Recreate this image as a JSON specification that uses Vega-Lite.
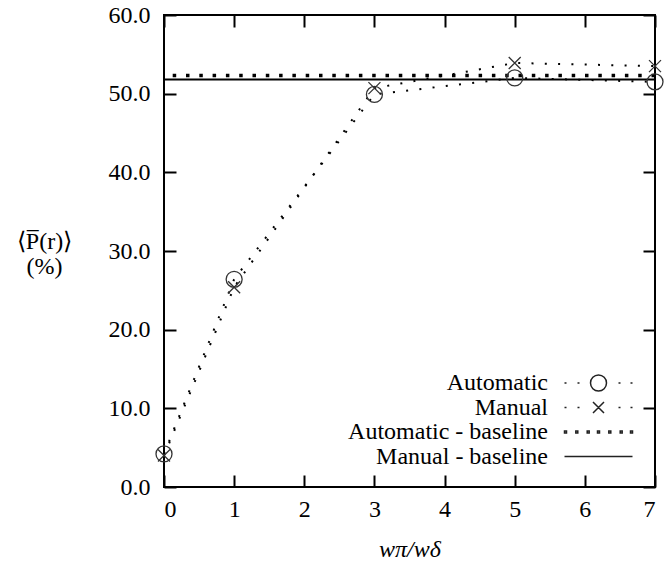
{
  "$schema": "https://vega.github.io/schema/vega-lite/v6.json",
  "width": 491,
  "height": 472,
  "autosize": {"type": "none"},
  "padding": {"left": 164, "top": 15, "right": 9, "bottom": 76},
  "background": "white",
  "config": {
    "view": {"stroke": "black", "strokeWidth": 2},
    "axis": {
      "labelFont": "Liberation Serif",
      "labelFontSize": 24,
      "labelColor": "black",
      "titleFont": "Liberation Serif",
      "titleFontSize": 24,
      "titleFontWeight": "normal",
      "titleColor": "black",
      "ticks": true,
      "tickColor": "black",
      "tickSize": -12,
      "tickWidth": 2,
      "domain": false,
      "grid": false
    }
  },
  "datasets": {
    "curves": [
      {"w": 0, "p": 4.2, "series": "Automatic"},
      {"w": 1, "p": 26.4, "series": "Automatic"},
      {"w": 3, "p": 49.9, "series": "Automatic"},
      {"w": 5, "p": 52.0, "series": "Automatic"},
      {"w": 7, "p": 51.5, "series": "Automatic"},
      {"w": 0, "p": 4.0, "series": "Manual"},
      {"w": 1, "p": 25.4, "series": "Manual"},
      {"w": 3, "p": 50.7, "series": "Manual"},
      {"w": 5, "p": 53.9, "series": "Manual"},
      {"w": 7, "p": 53.5, "series": "Manual"}
    ],
    "baselines": [
      {"series": "Automatic - baseline", "p": 52.3},
      {"series": "Manual - baseline", "p": 51.8}
    ],
    "entries": [
      {"entry": "Automatic"},
      {"entry": "Manual"},
      {"entry": "Automatic - baseline"},
      {"entry": "Manual - baseline"}
    ]
  },
  "resolve": {"axis": {"x": "independent", "y": "independent"}},
  "layer": [
    {
      "data": {"name": "curves"},
      "mark": {"type": "line", "color": "black", "strokeWidth": 2, "strokeDash": [2, 11.3]},
      "encoding": {
        "x": {
          "field": "w", "type": "quantitative",
          "scale": {"domain": [0, 7], "nice": false, "zero": false},
          "axis": {"orient": "bottom", "values": [0, 1, 2, 3, 4, 5, 6, 7], "format": "d", "labelPadding": 22,
                   "title": "wπ/wδ", "titleFontStyle": "italic", "titleY": 62, "titleBaseline": "middle"}
        },
        "y": {
          "field": "p", "type": "quantitative",
          "scale": {"domain": [0, 60], "nice": false, "zero": false},
          "axis": {"orient": "left", "values": [0, 10, 20, 30, 40, 50, 60], "format": ".1f", "labelPadding": 26,
                   "title": ["⟨P̅(r)⟩", "(%)"], "titleAngle": 0, "titleX": -120, "titleY": 226,
                   "titleAlign": "center", "titleBaseline": "middle", "titleLineHeight": 25}
        },
        "detail": {"field": "series", "type": "nominal"}
      }
    },
    {
      "data": {"name": "baselines"},
      "transform": [{"filter": "datum.series === 'Automatic - baseline'"}],
      "mark": {"type": "rule", "color": "black", "strokeWidth": 3.5, "strokeDash": [3.5, 9.8]},
      "encoding": {"y": {"field": "p", "type": "quantitative", "axis": null}}
    },
    {
      "data": {"name": "baselines"},
      "transform": [{"filter": "datum.series === 'Manual - baseline'"}],
      "mark": {"type": "rule", "color": "black", "strokeWidth": 2},
      "encoding": {"y": {"field": "p", "type": "quantitative", "axis": null}}
    },
    {
      "data": {"name": "curves"},
      "transform": [{"filter": "datum.series === 'Automatic'"}],
      "mark": {"type": "point", "shape": "circle", "size": 256, "filled": false, "stroke": "#333", "strokeWidth": 1.3, "opacity": 1},
      "encoding": {
        "x": {"field": "w", "type": "quantitative", "axis": null},
        "y": {"field": "p", "type": "quantitative",
              "axis": {"orient": "right", "values": [0, 10, 20, 30, 40, 50, 60], "labels": false, "title": null}}
      }
    },
    {
      "data": {"name": "curves"},
      "transform": [{"filter": "datum.series === 'Manual'"}],
      "mark": {"type": "point", "shape": "M-1,-1L1,1M1,-1L-1,1", "size": 144, "filled": false, "stroke": "#333", "strokeWidth": 1.3, "opacity": 1},
      "encoding": {
        "x": {"field": "w", "type": "quantitative",
              "axis": {"orient": "top", "values": [0, 1, 2, 3, 4, 5, 6, 7], "labels": false, "title": null}},
        "y": {"field": "p", "type": "quantitative", "axis": null}
      }
    },
    {
      "data": {"name": "entries"},
      "mark": {"type": "point", "filled": false, "opacity": 0},
      "encoding": {
        "shape": {
          "field": "entry", "type": "nominal",
          "scale": {
            "domain": ["Automatic", "Manual", "Automatic - baseline", "Manual - baseline"],
            "range": [
              "M-3.4,0h0.2M-2.1,0h0.2M2,0h0.2M3.2,0h0.2M0.8,0A0.8,0.8 0 1 1 -0.8,0A0.8,0.8 0 1 1 0.8,0Z",
              "M-3.4,0h0.2M-2.1,0h0.2M2,0h0.2M3.2,0h0.2M-0.55,-0.55L0.55,0.55M0.55,-0.55L-0.55,0.55",
              "M-3.4,-0.1h0.2v0.2h-0.2ZM-2.27,-0.1h0.2v0.2h-0.2ZM-1.13,-0.1h0.2v0.2h-0.2ZM-0.1,-0.1h0.2v0.2h-0.2ZM1.03,-0.1h0.2v0.2h-0.2ZM2.17,-0.1h0.2v0.2h-0.2ZM3.2,-0.1h0.2v0.2h-0.2Z",
              "M-3.4,0H3.4"
            ]
          },
          "legend": {
            "orient": "none", "legendX": 134, "legendY": 356, "title": null, "padding": 0,
            "labelAlign": "right", "labelOffset": -62.5, "symbolOffset": 288.5, "labelLimit": 0,
            "labelFont": "Liberation Serif", "labelFontSize": 24, "labelColor": "black",
            "rowPadding": 0.5, "symbolSize": 400,
            "symbolStrokeColor": "#222", "symbolFillColor": "transparent", "symbolStrokeWidth": 1.5,
            "encode": {"symbols": {"opacity": {"value": 1}}}
          }
        }
      }
    }
  ]
}
